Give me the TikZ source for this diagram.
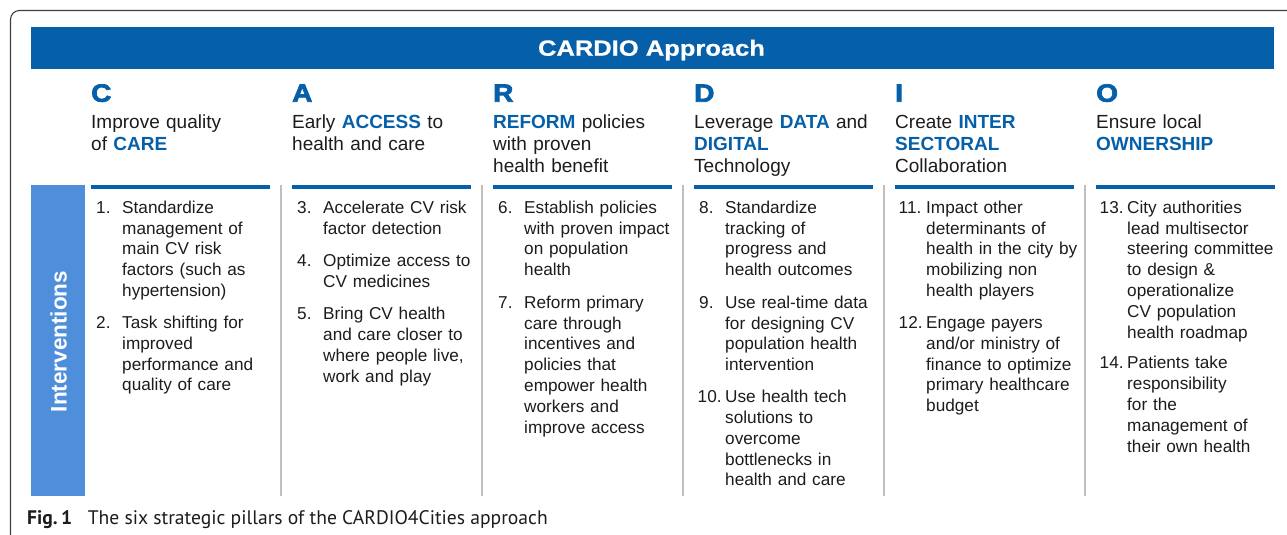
\documentclass[tikz,border=0pt]{standalone}
\usepackage{fontspec}
\setmainfont{Liberation Sans}
\newfontfamily\widebold{Liberation Sans Bold}[FakeStretch=1.16,FakeBold=0.6]
\newfontfamily\blackfont{Liberation Sans Bold}[FakeBold=3,FakeStretch=1.12]
\newfontfamily\capfont{PT Sans}

\definecolor{cblue}{HTML}{0660A9}
\definecolor{barblue}{HTML}{4F8EDB}
\definecolor{sepgrey}{HTML}{BFBFBF}
\definecolor{ink}{HTML}{1C1C1C}
\definecolor{framegrey}{HTML}{3F3F3F}

\newcommand{\kw}[1]{\textbf{\color{cblue}#1}}

\tikzset{
  frame/.style={draw=framegrey, line width=1.1pt, rounded corners=9pt},
  letter/.style={anchor=base west, inner sep=0pt, text=cblue,
    font=\blackfont\fontsize{25}{25}\selectfont},
  head/.style={anchor=base west, inner sep=0pt, text=ink, align=left,
    text width=195pt, font=\fontsize{19}{21.9}\selectfont},
  num/.style={anchor=base west, inner sep=0pt, text=ink,
    font=\fontsize{17.2}{20.8}\selectfont},
  itemtxt/.style={anchor=base west, inner sep=0pt, text=ink, align=left,
    text width=170pt, font=\fontsize{17.2}{20.8}\selectfont},
  headrule/.style={draw=cblue, line width=4pt},
  colsep/.style={draw=sepgrey, line width=1.3pt},
}

\begin{document}
\begin{tikzpicture}[x=1pt, y=-1pt]
\useasboundingbox (0,0) rectangle (1287,535);
\clip (0,0) rectangle (1287,535);

% outer frame (runs past the right and bottom edges)
\draw[frame] (10.5,10.5) rectangle (1320,570);

% title banner
\fill[cblue] (31,27) rectangle (1274,69);
\node[anchor=base, inner sep=0pt, text=white,
  font=\widebold\fontsize{22}{22}\selectfont] (title) at (651.5,55.7) {CARDIO Approach};

% side bar
\fill[barblue] (31,185) rectangle (85,496);
\node[rotate=90, inner sep=0pt, text=white,
  font=\bfseries\fontsize{22.5}{22.5}\selectfont] (interv) at (58.5,341.5) {Interventions};

% column rules and separators
\foreach \cx in {91,292,493,694,895,1096}
  \draw[headrule] (\cx,187) -- ++(179,0);
\foreach \sx in {281,482,683,884,1085}
  \draw[colsep] (\sx,185) -- (\sx,496);

% ---- C ----
\node[letter] (lC) at (91,101.7) {C};
\node[head] (hC) at (91,128.3) {Improve quality\\of \kw{CARE}};
\node[num] (n1) at (96,213.3) {1.};
\node[itemtxt] (t1) at (122,213.3) {Standardize\\management of\\main CV risk\\factors (such as\\hypertension)};
\node[num] (n2) at (96,328.5) {2.};
\node[itemtxt] (t2) at (122,328.5) {Task shifting for\\improved\\performance and\\quality of care};

% ---- A ----
\node[letter] (lA) at (292,101.7) {A};
\node[head] (hA) at (292,128.3) {Early \kw{ACCESS} to\\health and care};
\node[num] (n3) at (297,213.3) {3.};
\node[itemtxt] (t3) at (323,213.3) {Accelerate CV risk\\factor detection};
\node[num] (n4) at (297,266.6) {4.};
\node[itemtxt] (t4) at (323,266.6) {Optimize access to\\CV medicines};
\node[num] (n5) at (297,319.8) {5.};
\node[itemtxt] (t5) at (323,319.8) {Bring CV health\\and care closer to\\where people live,\\work and play};

% ---- R ----
\node[letter] (lR) at (493,101.7) {R};
\node[head] (hR) at (493,128.3) {\kw{REFORM} policies\\with proven\\health benefit};
\node[num] (n6) at (498,213.3) {6.};
\node[itemtxt] (t6) at (524,213.3) {Establish policies\\with proven impact\\on population\\health};
\node[num] (n7) at (498,308.2) {7.};
\node[itemtxt] (t7) at (524,308.2) {Reform primary\\care through\\incentives and\\policies that\\empower health\\workers and\\improve access};

% ---- D ----
\node[letter] (lD) at (694,101.7) {D};
\node[head] (hD) at (694,128.3) {Leverage \kw{DATA} and\\\kw{DIGITAL}\\Technology};
\node[num] (n8) at (699,213.3) {8.};
\node[itemtxt] (t8) at (725,213.3) {Standardize\\tracking of\\progress and\\health outcomes};
\node[num] (n9) at (699,308.2) {9.};
\node[itemtxt] (t9) at (725,308.2) {Use real-time data\\for designing CV\\population health\\intervention};
\node[num] (n10) at (697.5,402.6) {10.};
\node[itemtxt] (t10) at (725,402.6) {Use health tech\\solutions to\\overcome\\bottlenecks in\\health and care};

% ---- I ----
\node[letter] (lI) at (895,101.7) {I};
\node[head] (hI) at (895,128.3) {Create \kw{INTER}\\\kw{SECTORAL}\\Collaboration};
\node[num] (n11) at (898.5,213.3) {11.};
\node[itemtxt] (t11) at (926,213.3) {Impact other\\determinants of\\health in the city by\\mobilizing non\\health players};
\node[num] (n12) at (898.5,328.4) {12.};
\node[itemtxt] (t12) at (926,328.4) {Engage payers\\and/or ministry of\\finance to optimize\\primary healthcare\\budget};

% ---- O ----
\node[letter] (lO) at (1096,101.7) {O};
\node[head] (hO) at (1096,128.3) {Ensure local\\\kw{OWNERSHIP}};
\node[num] (n13) at (1099.5,213.3) {13.};
\node[itemtxt] (t13) at (1127,213.3) {City authorities\\lead multisector\\steering committee\\to design \&\\operationalize\\CV population\\health roadmap};
\node[num] (n14) at (1099.5,368.8) {14.};
\node[itemtxt] (t14) at (1127,368.8) {Patients take\\responsibility\\for the\\management of\\their own health};

% caption
\node[anchor=base west, inner sep=0pt, text=ink,
  font=\capfont\fontsize{19.6}{19.6}\selectfont] (caption) at (27,524)
  {\textbf{Fig.\,1}\hspace{0.8em}The six strategic pillars of the CARDIO4Cities approach};
\end{tikzpicture}
\end{document}
